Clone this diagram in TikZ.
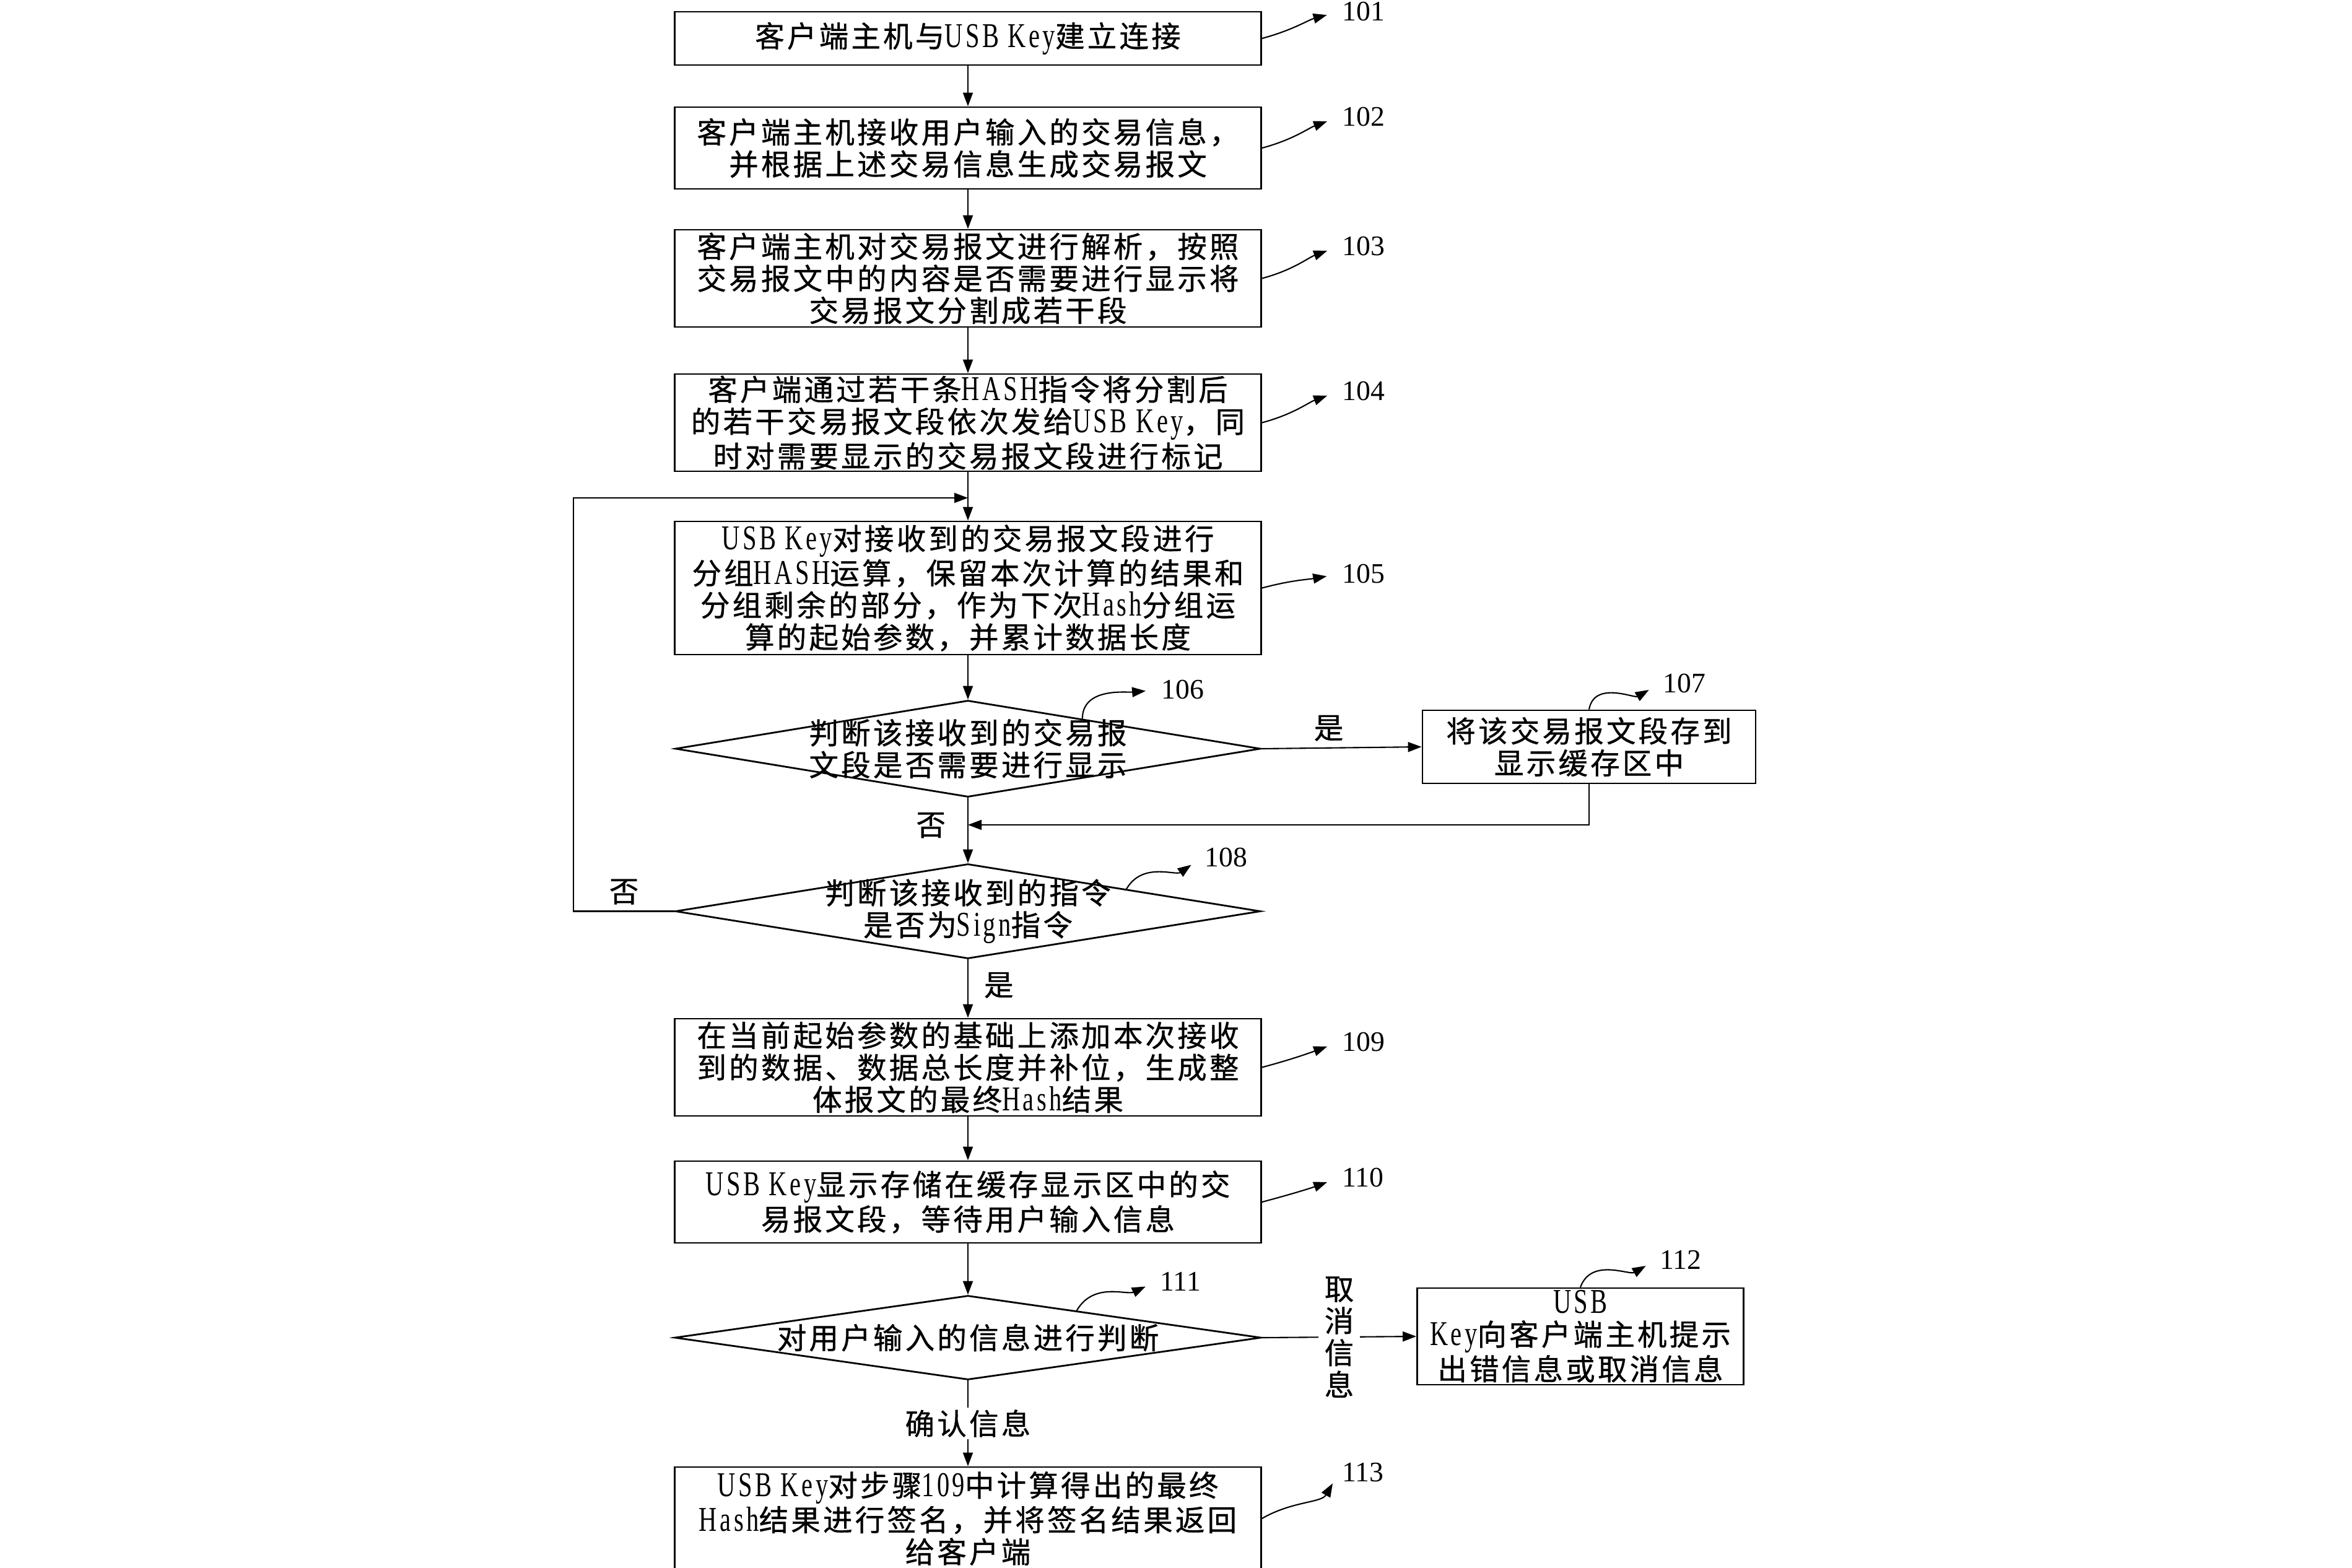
\documentclass[tikz,border=0pt]{standalone}
\usepackage{fontspec}
\usepackage{tikz}
\usetikzlibrary{shapes.geometric,arrows.meta,calc,positioning}
\newfontfamily\cjk{Noto Sans CJK SC}[LetterSpace=9, FakeBold=0.8]
\newfontfamily\latf{Liberation Serif}[FakeStretch=0.72, LetterSpace=8]
\newfontfamily\numfont{Liberation Serif}
\newcommand\lword[1]{{\latf\fontsize{16}{14.7}\selectfont #1}}

\tikzset{
  stepbox/.style={draw, black, line width=0.8pt, minimum width=9.47cm, inner sep=0pt,
    align=center, font=\cjk\fontsize{13.5}{14.7}\selectfont},
  decision/.style={draw, black, diamond, line width=0.8pt, inner sep=0pt, minimum width=9.45cm},
  txt/.style={align=center, inner sep=0pt, font=\cjk\fontsize{13.5}{14.7}\selectfont},
  lbl/.style={align=center, inner sep=1mm, font=\cjk\fontsize{13.5}{14.7}\selectfont},
  num/.style={anchor=west, inner sep=0.5mm, font=\numfont\fontsize{13}{15}\selectfont},
  arr/.style={-{Triangle[length=2.2mm,width=1.6mm]}, black, line width=0.6pt},
  lead/.style={arr, shorten >=2mm}
}

\begin{document}
\begin{tikzpicture}[y=-1cm]
        \useasboundingbox (0,0) rectangle (37.98,25.31);

        \node[stepbox, minimum height=0.86cm] (b101) at (15.63,0.62) {客户端主机与\lword{USB Key}建立连接};
        \node[stepbox, minimum height=1.32cm] (b102) at (15.63,2.39) {客户端主机接收用户输入的交易信息，\\并根据上述交易信息生成交易报文};
        \node[stepbox, minimum height=1.57cm] (b103) at (15.63,4.495) {客户端主机对交易报文进行解析，按照\\交易报文中的内容是否需要进行显示将\\交易报文分割成若干段};
        \node[stepbox, minimum height=1.57cm] (b104) at (15.63,6.825) {客户端通过若干条\lword{HASH}指令将分割后\\的若干交易报文段依次发给\lword{USB Key}，同\\时对需要显示的交易报文段进行标记};
        \node[stepbox, minimum height=2.15cm] (b105) at (15.63,9.495) {\lword{USB Key}对接收到的交易报文段进行\\分组\lword{HASH}运算，保留本次计算的结果和\\分组剩余的部分，作为下次\lword{Hash}分组运\\算的起始参数，并累计数据长度};
        \node[decision, minimum height=1.56cm] (d106) at (15.63,12.09) {};
        \node[txt] (t106) at (d106) {判断该接收到的交易报\\文段是否需要进行显示};
        \node[stepbox, minimum width=5.38cm, minimum height=1.18cm] (b107) at (25.66,12.06) {将该交易报文段存到\\显示缓存区中};
        \node[decision, minimum height=1.53cm] (d108) at (15.63,14.715) {};
        \node[txt] (t108) at (d108) {判断该接收到的指令\\是否为\lword{Sign}指令};
        \node[stepbox, minimum height=1.57cm] (b109) at (15.63,17.235) {在当前起始参数的基础上添加本次接收\\到的数据、数据总长度并补位，生成整\\体报文的最终\lword{Hash}结果};
        \node[stepbox, minimum height=1.32cm] (b110) at (15.63,19.41) {\lword{USB Key}显示存储在缓存显示区中的交\\易报文段，等待用户输入信息};
        \node[decision, minimum width=9.47cm, minimum height=1.36cm] (d111) at (15.63,21.60) {};
        \node[txt] (t111) at (d111) {对用户输入的信息进行判断};
        \node[stepbox, minimum width=5.27cm, minimum height=1.56cm] (b112) at (25.52,21.58) {\lword{USB}\\\lword{Key}向客户端主机提示\\出错信息或取消信息};
        \node[stepbox, minimum height=1.66cm] (b113) at (15.63,24.52) {\lword{USB Key}对步骤\lword{109}中计算得出的最终\\\lword{Hash}结果进行签名，并将签名结果返回\\给客户端};

        \node[num] (n101) at (21.62,0.19) {101};
        \node[num] (n102) at (21.62,1.89) {102};
        \node[num] (n103) at (21.62,3.98) {103};
        \node[num] (n104) at (21.62,6.32) {104};
        \node[num] (n105) at (21.62,9.27) {105};
        \node[num] (n106) at (18.70,11.14) {106};
        \node[num] (n107) at (26.80,11.04) {107};
        \node[num] (n108) at (19.40,13.85) {108};
        \node[num] (n109) at (21.62,16.83) {109};
        \node[num] (n110) at (21.62,19.02) {110};
        \node[num] (n111) at (18.68,20.69) {111};
        \node[num] (n112) at (26.75,20.34) {112};
        \node[num] (n113) at (21.62,23.78) {113};

        \coordinate (e106) at ($(d106.north)!0.39!(d106.east)$);
        \coordinate (e108) at ($(d108.north)!0.54!(d108.east)$);
        \coordinate (e111) at ($(d111.north)!0.37!(d111.east)$);
        \coordinate (lp) at (9.26,14.715);
        \coordinate (lt) at (9.26,8.04);
        \coordinate (lj) at (15.63,8.04);
        \coordinate (mj) at (15.63,13.32);

        \draw[arr] (b101) -- (b102);
        \draw[arr] (b102) -- (b103);
        \draw[arr] (b103) -- (b104);
        \draw[arr] (b104) -- (b105);
        \draw[arr] (b105) -- (d106.north);
        \draw[arr] (d106.east) -- node[lbl, pos=0.42, above] (y106) {是} (b107.west);
        \draw[arr] (d106.south) -- node[lbl, pos=0.42, left=2.5mm] (x106) {否} (d108.north);
        \draw[arr] (b107.south) |- (mj);
        \draw[arr] (d108.west) -- node[lbl, above] (x108) {否} (lp) -- (lt) -- (lj);
        \draw[arr] (d108.south) -- node[lbl, pos=0.44, right=1.5mm] (y108) {是} (b109.north);
        \draw[arr] (b109) -- (b110);
        \draw[arr] (b110.south) -- (d111.north);
        \draw[arr] (d111.east) -- node[lbl, fill=white, inner ysep=0.5mm] (c111) {取\\消\\信\\息} (b112.west);
        \draw[arr] (d111.south) -- node[lbl, fill=white, inner ysep=0.3mm] (k111) {确认信息} (b113.north);

        \draw[lead] (b101.east) to[out=15,in=195] (n101.west);
        \draw[lead] (b102.east) to[out=15,in=200] (n102.west);
        \draw[lead] (b103.east) to[out=15,in=200] (n103.west);
        \draw[lead] (b104.east) to[out=15,in=200] (n104.west);
        \draw[lead] (b105.east) to[out=15,in=190] (n105.west);
        \draw[lead] (e106) to[out=90,in=185] (n106.west);
        \draw[lead] (b107.north) to[out=80,in=210] (n107.west);
        \draw[lead] (e108) to[out=60,in=215] (n108.west);
        \draw[lead] (b109.east) to[out=15,in=200] (n109.west);
        \draw[lead] (b110.east) to[out=15,in=200] (n110.west);
        \draw[lead] (e111) to[out=60,in=205] (n111.west);
        \draw[lead] (b112.north) to[out=70,in=210] (n112.west);
        \draw[lead] (b113.east) to[out=30,in=240] (n113.west);
    \end{tikzpicture}
\end{document}
